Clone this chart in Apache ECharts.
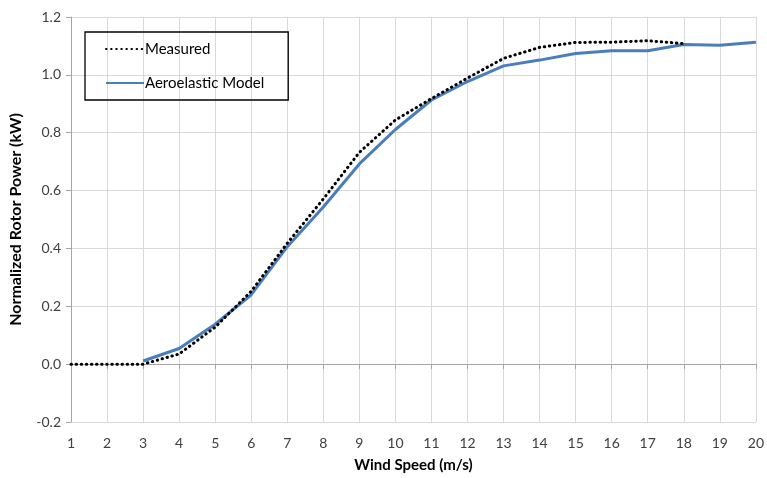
<!DOCTYPE html>
<html><head><meta charset="utf-8">
<script src="https://cdn.jsdelivr.net/npm/echarts@6/dist/echarts.min.js"></script>
<style>html,body{margin:0;padding:0;background:#fff}#c{width:767px;height:478px}</style>
</head><body><div id="c"></div>
<script>
const windSpeed = [1,2,3,4,5,6,7,8,9,10,11,12,13,14,15,16,17,18,19,20];
const measured = [0,0,0,0.035,0.128,0.252,0.418,0.571,0.732,0.844,0.918,0.989,1.057,1.095,1.112,1.113,1.118,1.108,null,null];
const model = [null,null,0.011,0.054,0.138,0.24,0.406,0.543,0.692,0.811,0.913,0.977,1.031,1.051,1.074,1.083,1.083,1.105,1.102,1.113];
const yTicks = {min:-0.2, max:1.2, step:0.2};

const font = 'Lato, "Open Sans", sans-serif';
const pair = arr => windSpeed.map((x,i)=>[x, arr[i]]);
const chart = echarts.init(document.getElementById('c'));
chart.setOption({
  animation:false,
  textStyle:{fontFamily:font},
  grid:{left:71,right:11,top:17,bottom:56},
  legend:{
    orient:'vertical', left:85, top:32,
    padding:[9,24,9,20], itemGap:18, itemWidth:38, itemHeight:16,
    borderColor:'#000', borderWidth:1.3,
    itemStyle:{opacity:0},
    textStyle:{fontFamily:font,fontSize:15,lineHeight:16,color:'#000',padding:[0,0,0,-4]},
    data:['Measured','Aeroelastic Model']
  },
  xAxis:[{
    type:'value', min:1, max:20, interval:1,
    axisLine:{show:false,onZero:false}, axisTick:{show:false},
    splitLine:{show:true,lineStyle:{color:'#d9d9d9',width:1}},
    axisLabel:{fontSize:14,color:'#404040',margin:14,fontFamily:font},
    name:'Wind Speed (m/s)', nameLocation:'middle', nameGap:36,
    nameTextStyle:{fontSize:15,fontWeight:'bold',color:'#000',fontFamily:font}
  },{
    type:'value', min:1, max:20, interval:1, position:'bottom',
    axisLine:{show:true,onZero:true,lineStyle:{color:'#a6a6a6',width:1}},
    axisTick:{show:true,length:5,lineStyle:{color:'#a6a6a6'}},
    axisLabel:{show:false}, splitLine:{show:false}
  }],
  yAxis:{
    type:'value', min:yTicks.min, max:yTicks.max, interval:yTicks.step,
    axisLine:{show:true,lineStyle:{color:'#a6a6a6'}},
    axisTick:{show:true,length:5,lineStyle:{color:'#a6a6a6'}},
    splitLine:{lineStyle:{color:'#d9d9d9',width:1}},
    axisLabel:{fontSize:14,color:'#404040',margin:10,formatter:v=>v.toFixed(1),fontFamily:font},
    name:'Normalized Rotor Power (kW)', nameLocation:'middle', nameGap:47,
    nameTextStyle:{fontSize:16,fontWeight:'bold',color:'#000',fontFamily:font}
  },
  series:[{
    name:'Measured', type:'line', xAxisIndex:0, data:pair(measured),
    showSymbol:false, symbol:'none', connectNulls:false, z:3,
    lineStyle:{color:'#000',width:3,type:[0.5,4.6],cap:'round'},
    itemStyle:{color:'#000'}
  },{
    name:'Aeroelastic Model', type:'line', xAxisIndex:0, data:pair(model),
    showSymbol:false, symbol:'none', z:2,
    lineStyle:{color:'#4A7EBB',width:3},
    itemStyle:{color:'#4A7EBB'}
  }]
});
</script></body></html>
